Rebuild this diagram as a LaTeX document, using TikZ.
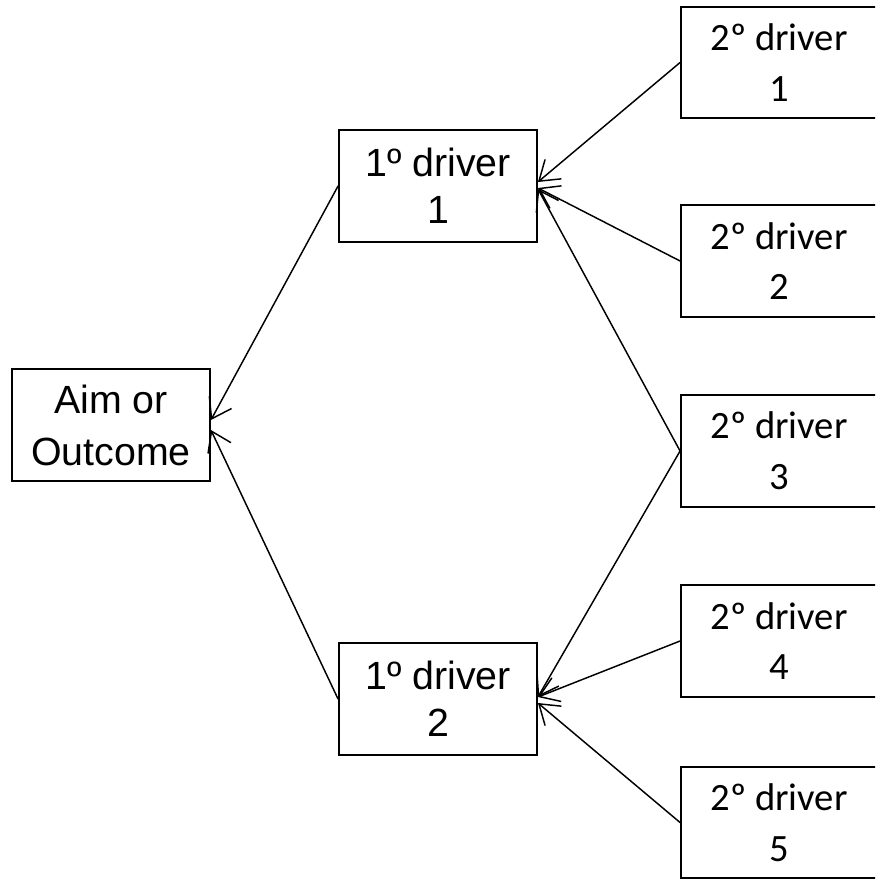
\documentclass[tikz,border=0pt]{standalone}
\usepackage{fontspec}
\setmainfont{Liberation Sans}
\newfontfamily\calfont{Carlito}
\usetikzlibrary{arrows.meta,calc}

\tikzset{
  mainbox/.style={draw, line width=1.4pt, rectangle, inner sep=0pt,
    minimum width=148.5pt, minimum height=84pt, align=center},
  arialtext/.style={font=\fontsize{29.5}{35}\selectfont},
  subbox/.style={draw, line width=1.4pt, rectangle, inner sep=0pt,
    minimum width=147pt, minimum height=83.5pt, align=center,
    font=\calfont\fontsize{29}{38}\selectfont},
  link/.style={line width=1.1pt, -{Straight Barb[length=14pt, width=19pt, line width=1.1pt]}}
}

\begin{document}
\begin{tikzpicture}[x=0.75pt, y=-0.75pt]
  % page frame, pixel grid with y pointing down
  \useasboundingbox (0,0) rectangle (875,880);
  \clip (0,0) rectangle (875,880);

  % outcome and primary drivers
  \node[mainbox, font=\fontsize{29.5}{39}\selectfont] (aim) at (111,425) {Aim or\\Outcome};
  \node[mainbox, arialtext] (p1)  at (438,186) {1º driver\\1};
  \node[mainbox, arialtext] (p2)  at (438,699) {1º driver\\2};

  % secondary drivers (their right edges run off the page)
  \node[subbox] (s1) at (779,62.5)  {2º driver\\1};
  \node[subbox] (s2) at (779,261)   {2º driver\\2};
  \node[subbox] (s3) at (779,451)   {2º driver\\3};
  \node[subbox] (s4) at (779,641)   {2º driver\\4};
  \node[subbox] (s5) at (779,822.5) {2º driver\\5};

  % primary drivers feed the outcome
  \draw[link] (p1.west) -- ($(aim.east)+(0,-5)$);
  \draw[link] (p2.west) -- ($(aim.east)+(0,5)$);

  % secondary drivers feed primary driver 1
  \draw[link] (s1.west) -- ($(p1.east)+(0,-4)$);
  \draw[link] (s2.west) -- ($(p1.east)+(0,2)$);
  \draw[link] (s3.west) -- ($(p1.east)+(0,3)$);

  % secondary drivers feed primary driver 2
  \draw[link] (s3.west) -- ($(p2.east)+(0,-2)$);
  \draw[link] (s4.west) -- ($(p2.east)+(0,-2)$);
  \draw[link] (s5.west) -- ($(p2.east)+(0,4)$);
\end{tikzpicture}
\end{document}
